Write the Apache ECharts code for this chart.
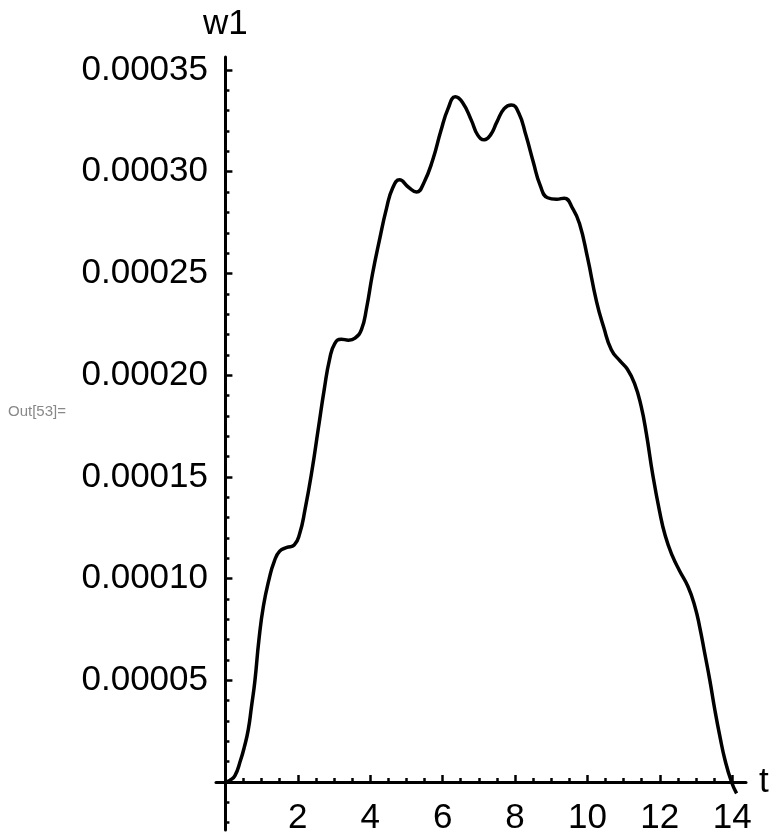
<!DOCTYPE html>
<html>
<head>
<meta charset="utf-8">
<script src="https://cdn.jsdelivr.net/npm/echarts@6/dist/echarts.min.js"></script>
<style>
html,body{margin:0;padding:0;background:#fff;}
#chart{width:777px;height:832px;}
</style>
</head>
<body>
<div id="chart"></div>
<script>
// Data
var tValues = [0.00,0.12,0.26,0.42,0.52,0.63,0.72,0.815,0.925,1.05,1.21,1.35,1.50,1.70,1.90,2.05,2.20,2.39,2.56,2.73,2.88,3.02,3.20,3.40,3.58,3.76,3.90,4.06,4.25,4.45,4.62,4.81,5.05,5.28,5.48,5.73,5.95,6.15,6.35,6.55,6.80,6.97,7.15,7.32,7.50,7.70,7.90,8.10,8.30,8.50,8.70,8.90,9.15,9.36,9.59,9.78,10.00,10.25,10.45,10.66,10.90,11.10,11.30,11.48,11.63,11.80,11.99,12.15,12.35,12.54,12.78,12.97,13.10,13.24,13.38,13.52,13.66,13.80,13.98,14.12];
var w1Values = [0,0.0000008,0.000003,0.0000108,0.000017,0.0000256,0.000037,0.0000498,0.0000698,0.0000865,0.0001,0.0001085,0.0001135,0.0001153,0.0001165,0.000122,0.000134,0.000153,0.000173,0.000193,0.000208,0.0002155,0.0002177,0.0002172,0.0002182,0.0002225,0.000233,0.0002495,0.000266,0.000282,0.000292,0.000296,0.0002925,0.00029,0.0002945,0.000306,0.00032,0.000331,0.0003368,0.000334,0.000325,0.000318,0.0003157,0.000318,0.0003245,0.000331,0.0003328,0.000329,0.000318,0.000305,0.000293,0.0002872,0.0002865,0.000287,0.000282,0.0002745,0.000258,0.0002363,0.0002235,0.0002125,0.000207,0.000203,0.000196,0.000185,0.000171,0.0001515,0.0001333,0.000121,0.000111,0.000104,0.000096,0.0000862,0.0000763,0.0000633,0.0000501,0.0000354,0.0000223,0.0000108,0,-0.0000056];

var xMajorTicks = [2,4,6,8,10,12,14];
var xMinorTicks = [0.5,1,1.5,2.5,3,3.5,4.5,5,5.5,6.5,7,7.5,8.5,9,9.5,10.5,11,11.5,12.5,13,13.5];
var yMajorTicks = [0.00005,0.0001,0.00015,0.0002,0.00025,0.0003,0.00035];
var yMinorTicks = [0.00001,0.00002,0.00003,0.00004,0.00006,0.00007,0.00008,0.00009,0.00011,0.00012,0.00013,0.00014,0.00016,0.00017,0.00018,0.00019,0.00021,0.00022,0.00023,0.00024,0.00026,0.00027,0.00028,0.00029,0.00031,0.00032,0.00033,0.00034];
var yNegTicks = [-0.00002,-0.00001];

var FONT = 'Liberation Sans, Arial, sans-serif';
var points = tValues.map(function(t,i){return [t, w1Values[i]];});

var chart = echarts.init(document.getElementById('chart'), null, {renderer:'canvas'});
var xMin = -0.26, xMax = 14.38, yMin = -0.0000236, yMax = 0.0003564;
var AX = {color:'#000', width:3};
var TK = {color:'#000', width:2.5};

chart.setOption({
  animation:false,
  backgroundColor:'#fff',
  title:{
    text:'Out[53]=', left:8, top:404, padding:0,
    textStyle:{fontFamily:FONT, fontSize:15, fontWeight:'normal', color:'#888'}
  },
  grid:[
    {left:216, right:31, top:57, bottom:50, containLabel:false, outerBoundsMode:'none'},
    {left:216, right:31, top:782, bottom:2, containLabel:false, outerBoundsMode:'none'}
  ],
  xAxis:[{
    gridIndex:0, type:'value', min:xMin, max:xMax, position:'bottom',
    name:'t', nameLocation:'end', nameGap:13,
    nameTextStyle:{fontFamily:FONT, fontSize:35, color:'#000', verticalAlign:'middle'},
    axisLine:{show:true, onZero:false, lineStyle:AX},
    axisTick:{show:true, inside:true, length:7, customValues:xMajorTicks, lineStyle:TK},
    axisLabel:{show:true, margin:19, customValues:xMajorTicks, fontFamily:FONT, fontSize:35, color:'#000'},
    splitLine:{show:false}, minorTick:{show:false}
  },{
    gridIndex:0, type:'value', min:xMin, max:xMax, position:'bottom',
    axisLine:{show:false, onZero:false},
    axisTick:{show:true, inside:true, length:4, customValues:xMinorTicks, lineStyle:TK},
    axisLabel:{show:false},
    splitLine:{show:false}
  },{
    gridIndex:1, type:'value', min:xMin, max:xMax, show:false,
    axisLine:{onZero:false}, splitLine:{show:false}
  }],
  yAxis:[{
    gridIndex:0, type:'value', min:0, max:yMax, position:'left',
    name:'w1', nameLocation:'end', nameGap:15,
    nameTextStyle:{fontFamily:FONT, fontSize:35, color:'#000', align:'center'},
    axisLine:{show:true, onZero:true, onZeroAxisIndex:0, lineStyle:AX},
    axisTick:{show:true, inside:true, length:7, customValues:yMajorTicks, lineStyle:TK},
    axisLabel:{show:true, margin:8, customValues:yMajorTicks, fontFamily:FONT, fontSize:35, color:'#000',
      formatter:function(v){return v.toFixed(5);}},
    splitLine:{show:false}
  },{
    gridIndex:0, type:'value', min:0, max:yMax, position:'left',
    axisLine:{show:false, onZero:true, onZeroAxisIndex:0},
    axisTick:{show:true, inside:true, length:4, customValues:yMinorTicks, lineStyle:TK},
    axisLabel:{show:false},
    splitLine:{show:false}
  },{
    gridIndex:1, type:'value', min:yMin, max:0, position:'left',
    axisLine:{show:true, onZero:true, onZeroAxisIndex:2, lineStyle:AX},
    axisTick:{show:true, inside:true, length:4, customValues:yNegTicks, lineStyle:TK},
    axisLabel:{show:false},
    splitLine:{show:false}
  }],
  series:[{
    type:'line', xAxisIndex:0, yAxisIndex:0, clip:false,
    data:points, showSymbol:false, symbol:'none', smooth:0.5,
    lineStyle:{color:'#000', width:3.5}, z:3
  }]
});
</script>
</body>
</html>
